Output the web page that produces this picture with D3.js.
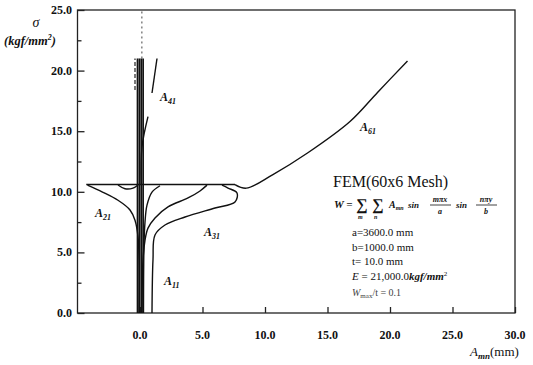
<!DOCTYPE html>
<html>
<head>
<meta charset="utf-8">
<script src="https://cdn.jsdelivr.net/npm/d3@7"></script>
<style>
  body { margin: 0; background: #fff; }
  svg text { font-family: "Liberation Serif", "DejaVu Serif", serif; fill: #111; }
</style>
</head>
<body>
<svg id="chart" width="533" height="365"></svg>
<script>
// tick values
const xTickValues = [0, 5, 10, 15, 20, 25, 30];
const yTickValues = [0, 5, 10, 15, 20, 25];
const yMinorValues = [2.5, 7.5, 12.5, 17.5, 22.5];

// curves, [A_mn (mm), sigma (kgf/mm2)]
const plateau = [[-4.3, 10.6], [7.6, 10.6]];
const a61 = [[7.6, 10.6], [8.5, 10.3], [10.6, 11.4], [13.4, 13.2], [16.8, 15.8], [19.0, 18.2], [21.4, 20.8]];
const a21 = [[-4.2, 10.55], [-3.0, 9.98], [-1.76, 9.3], [-0.8, 8.5], [-0.4, 7.65], [-0.16, 6.3], [-0.08, 4.4], [-0.08, 0]];
const a21Right = [[5.36, 10.55], [4.8, 10.07], [3.84, 9.49], [2.24, 8.75], [1.2, 7.84], [0.64, 7.0], [0.4, 6.0], [0.24, 4.4], [0.16, 0]];
const a31 = [[6.56, 10.55], [7.04, 10.31], [7.76, 9.9], [7.6, 9.16], [6.0, 8.66], [3.6, 7.92], [2.0, 7.26], [1.2, 6.44], [1.04, 4.4], [0.96, 0]];
const a11 = [[1.6, 10.5], [0.96, 9.98], [0.56, 8.9], [0.4, 7.5], [0.32, 5.6], [0.28, 0]];
const lens = [[-1.76, 10.56], [-1.2, 10.25], [-0.56, 10.3], [-0.16, 10.56]];
const a41Upper = [[1.36, 21.0], [0.96, 18.15]];
const a41Lower = [[0.64, 16.2], [0.16, 13.7], [0.1, 10.6]];
const bundleX = [-0.2, -0.05, 0.1, 0.25];
const bundleTop = 21.0;

const svg = d3.select("#chart");
const x = d3.scaleLinear().domain([-5, 30]).range([77.5, 515]);
const y = d3.scaleLinear().domain([0, 25]).range([313, 10]);

// frame
svg.append("rect")
  .attr("x", x(-5)).attr("y", y(25))
  .attr("width", x(30) - x(-5)).attr("height", y(0) - y(25))
  .attr("fill", "none").attr("stroke", "#222").attr("stroke-width", 1.3);

// y axis (ticks point inward)
const yAxis = svg.append("g")
  .attr("transform", "translate(" + x(-5) + ",0)")
  .call(d3.axisRight(y).tickValues(yTickValues).tickSize(7).tickFormat(""));
yAxis.select(".domain").remove();
svg.append("g")
  .attr("transform", "translate(" + x(-5) + ",0)")
  .call(d3.axisRight(y).tickValues(yMinorValues).tickSize(4).tickFormat(""))
  .select(".domain").remove();
svg.selectAll(".ylab")
  .data(yTickValues)
  .enter()
  .append("text")
  .attr("x", 72)
  .attr("y", d => y(d) + 4)
  .attr("text-anchor", "end")
  .style("font-size", "12px")
  .style("font-weight", "bold")
  .text(d => d3.format(".1f")(d));

// x axis
const xAxis = svg.append("g")
  .attr("transform", "translate(0," + y(0) + ")")
  .call(d3.axisTop(x).tickValues(xTickValues).tickSize(6).tickFormat(""));
xAxis.select(".domain").remove();
svg.selectAll(".xlab")
  .data(xTickValues)
  .enter()
  .append("text")
  .attr("x", d => x(d))
  .attr("y", 339)
  .attr("text-anchor", "middle")
  .style("font-size", "12px")
  .style("font-weight", "bold")
  .text(d => d3.format(".1f")(d));
svg.selectAll(".tick line").attr("stroke", "#222").attr("stroke-width", 1.3);

// axis titles
svg.append("text").attr("x", 36).attr("y", 27).attr("text-anchor", "middle")
  .style("font-size", "14px").style("font-style", "italic").text("σ");
const yt = svg.append("text").attr("x", 4).attr("y", 45)
  .style("font-size", "12.5px").style("font-style", "italic").style("font-weight", "bold");
yt.append("tspan").text("(kgf/mm");
yt.append("tspan").attr("dy", -5).style("font-size", "8px").text("2");
yt.append("tspan").attr("dy", 5).text(")");

const xt = svg.append("text").attr("x", 470).attr("y", 356).style("font-size", "13px");
xt.append("tspan").style("font-style", "italic").text("A");
xt.append("tspan").attr("dy", 3).style("font-size", "9px").style("font-style", "italic").style("font-weight", "bold").text("mn");
xt.append("tspan").attr("dy", -3).text("(mm)");

// curves
const line = d3.line()
  .x(d => x(d[0]))
  .y(d => y(d[1]))
  .curve(d3.curveCatmullRom.alpha(0.5));

const curves = [plateau, a61, a21, a21Right, a31, a11, lens, a41Upper, a41Lower];
svg.selectAll(".curve")
  .data(curves)
  .enter()
  .append("path")
  .attr("d", line)
  .attr("fill", "none")
  .attr("stroke", "#111")
  .attr("stroke-width", 1.4);

// vertical bundle near zero
svg.selectAll(".bundle")
  .data(bundleX)
  .enter()
  .append("line")
  .attr("x1", d => x(d)).attr("x2", d => x(d))
  .attr("y1", y(0)).attr("y2", y(bundleTop))
  .attr("stroke", "#111").attr("stroke-width", 1.7);
svg.append("line")
  .attr("x1", x(-0.4)).attr("x2", x(-0.4))
  .attr("y1", y(18.4)).attr("y2", y(bundleTop))
  .attr("stroke", "#222").attr("stroke-width", 1.2).attr("stroke-dasharray", "4,2");
svg.append("line")
  .attr("x1", x(0.15)).attr("x2", x(0.15))
  .attr("y1", y(bundleTop)).attr("y2", y(25))
  .attr("stroke", "#444").attr("stroke-width", 1).attr("stroke-dasharray", "2,3");

// curve labels
function modeLabel(px, py, sub) {
  const t = svg.append("text").attr("x", px).attr("y", py)
    .style("font-size", "12px").style("font-style", "italic").style("font-weight", "bold");
  t.append("tspan").text("A");
  t.append("tspan").attr("dy", 3).style("font-size", "8px").text(sub);
}
modeLabel(95, 217, "21");
modeLabel(204, 236, "31");
modeLabel(164, 285, "11");
modeLabel(160, 101, "41");
modeLabel(360, 131, "61");

// annotation block
svg.append("text").attr("x", 333).attr("y", 187).style("font-size", "16px").text("FEM(60x6 Mesh)");

const f = svg.append("g").style("font-style", "italic").style("font-weight", "bold");
f.append("text").attr("x", 334).attr("y", 208).style("font-size", "11px").text("W =");
f.append("text").attr("x", 356).attr("y", 210).style("font-size", "16px").style("font-style", "normal").text("∑");
f.append("text").attr("x", 372).attr("y", 210).style("font-size", "16px").style("font-style", "normal").text("∑");
f.append("text").attr("x", 358).attr("y", 219).style("font-size", "6px").text("m");
f.append("text").attr("x", 374).attr("y", 219).style("font-size", "6px").text("n");
const amn = f.append("text").attr("x", 389).attr("y", 208).style("font-size", "10px");
amn.append("tspan").text("A");
amn.append("tspan").attr("dy", 2).style("font-size", "6px").text("mn");
f.append("text").attr("x", 408).attr("y", 208).style("font-size", "9px").text("sin");
f.append("text").attr("x", 440).attr("y", 202).attr("text-anchor", "middle").style("font-size", "8px").text("mπx");
f.append("line").attr("x1", 430).attr("x2", 451).attr("y1", 205).attr("y2", 205).attr("stroke", "#111").attr("stroke-width", 0.8);
f.append("text").attr("x", 440).attr("y", 214).attr("text-anchor", "middle").style("font-size", "8px").text("a");
f.append("text").attr("x", 456).attr("y", 208).style("font-size", "9px").text("sin");
f.append("text").attr("x", 486).attr("y", 202).attr("text-anchor", "middle").style("font-size", "8px").text("nπy");
f.append("line").attr("x1", 476).attr("x2", 497).attr("y1", 205).attr("y2", 205).attr("stroke", "#111").attr("stroke-width", 0.8);
f.append("text").attr("x", 486).attr("y", 214).attr("text-anchor", "middle").style("font-size", "8px").text("b");

const params = ["a=3600.0 mm", "b=1000.0 mm", "t= 10.0 mm"];
svg.selectAll(".param")
  .data(params)
  .enter()
  .append("text")
  .attr("x", 352)
  .attr("y", (d, i) => 236 + i * 14.5)
  .style("font-size", "11px")
  .text(d => d);
const e = svg.append("text").attr("x", 352).attr("y", 280).style("font-size", "11px");
e.append("tspan").style("font-style", "italic").text("E");
e.append("tspan").text(" = 21,000.0");
e.append("tspan").style("font-style", "italic").style("font-weight", "bold").text("kgf/mm");
e.append("tspan").attr("dy", -4).style("font-size", "7px").text("2");
const w = svg.append("text").attr("x", 352).attr("y", 296).style("font-size", "10px").style("fill", "#444");
w.append("tspan").style("font-style", "italic").text("W");
w.append("tspan").attr("dy", 2).style("font-size", "7px").text("max");
w.append("tspan").attr("dy", -2).text("/t = 0.1");
</script>
</body>
</html>
